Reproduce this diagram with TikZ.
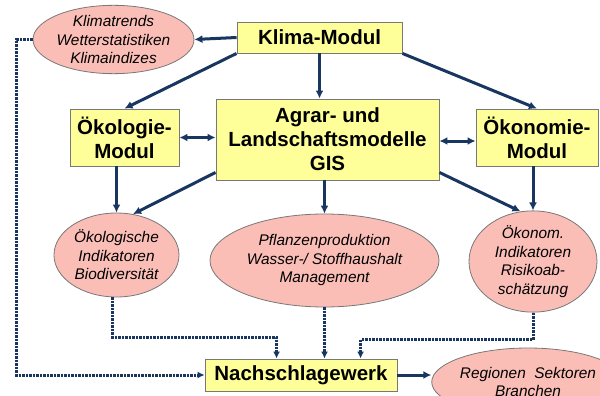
\documentclass[tikz,border=0pt]{standalone}
\usepackage{fontspec}
\setmainfont{Liberation Sans}
\usetikzlibrary{shapes.geometric,arrows.meta,calc}
\definecolor{navy}{RGB}{24,54,96}
\definecolor{boxyellow}{RGB}{255,255,153}
\definecolor{ellpink}{RGB}{250,190,183}
\definecolor{edgegray}{RGB}{120,120,120}
\tikzset{
  modbox/.style={draw=edgegray, line width=0.9pt, fill=boxyellow, align=center, inner sep=0pt,
    font=\bfseries\fontsize{20.5}{24}\selectfont},
  infoell/.style={ellipse, draw=edgegray, line width=0.8pt, fill=ellpink, align=center, inner sep=0pt,
    font=\itshape\fontsize{15.4}{18.5}\selectfont},
  flow/.style={draw=navy, line width=3pt, -{Latex[length=8pt,width=8pt]}},
  flow2/.style={draw=navy, line width=3pt, {Latex[length=8pt,width=8pt]}-{Latex[length=8pt,width=8pt]}},
  dotflow/.style={draw=navy, line width=3pt, dash pattern=on 2.5pt off 1pt, -{Latex[length=7pt,width=7pt]}},
}
\begin{document}
\begin{tikzpicture}[x=1pt,y=-1pt]
\useasboundingbox (0,0) rectangle (600,396);
% boxes
\node[modbox, minimum width=165pt, minimum height=31pt] (klima) at (319.5,37.5) {Klima-Modul};
\node[modbox, minimum width=109pt, minimum height=57pt] (oeko) at (124.5,137.5) {Ökologie-\\Modul};
\node[modbox, minimum width=223pt, minimum height=81pt] (agrar) at (327.5,139.5) {Agrar- und\\Landschaftsmodelle\\GIS};
\node[modbox, minimum width=122pt, minimum height=57pt] (oekon) at (537,137.5) {Ökonomie-\\Modul};
\node[modbox, minimum width=192pt, minimum height=32pt] (nach) at (301,375) {Nachschlagewerk};
% ellipses
\node[infoell, minimum width=161pt, minimum height=67pt] (kell) at (113.5,39.5) {Klimatrends\\Wetterstatistiken\\Klimaindizes};
\node[infoell, minimum width=125pt, minimum height=84pt] (oell) at (116.5,255) {Ökologische\\Indikatoren\\Biodiversität};
\node[infoell, minimum width=229pt, minimum height=93pt] (pell) at (324.5,260.5) {Pflanzenproduktion\\Wasser-/ Stoffhaushalt\\Management};
\node[infoell, minimum width=128pt, minimum height=97pt] (oekell) at (533,261.5) {Ökonom.\\Indikatoren\\Risikoab-\\schätzung};
\node[infoell, minimum width=178pt, minimum height=68pt] (rell) at (528,382) {Regionen\ \ Sektoren\\Branchen};
% solid connectors
\draw[flow] (klima.west) -- (kell.east);
\draw[flow] (klima.south west) -- (oeko.north);
\draw[flow] (klima.south) -- (klima.south |- agrar.north);
\draw[flow] (klima.south east) -- (oekon.north);
\draw[flow2] (oeko.east) -- (oeko.east -| agrar.west);
\draw[flow2] ([yshift=-1.5pt]agrar.east) -- ([yshift=-1.5pt]agrar.east -| oekon.west);
\draw[flow] (oeko.south -| oell.north) -- (oell.north);
\draw[flow] ([yshift=8pt]agrar.south west) -- (oell.68);
\draw[flow] (pell.north |- agrar.south) -- (pell.north);
\draw[flow] ([yshift=8pt]agrar.south east) -- (oekell.104);
\draw[flow] (oekell.north |- oekon.south) -- (oekell.north);
\draw[flow] (nach.east) -- (nach.east -| rell.west);
% dotted connectors
\draw[dotflow] (kell.west) -- ++(-16,0) |- (nach.west);
\draw[dotflow] ([xshift=-4pt]oell.south) -- ++(0,40) -| ([xshift=72pt]nach.north west);
\draw[dotflow] (pell.south) -- (pell.south |- nach.north);
\draw[dotflow] (oekell.south) -- ++(0,27) -| ([xshift=156pt]nach.north west);
\end{tikzpicture}
\end{document}
